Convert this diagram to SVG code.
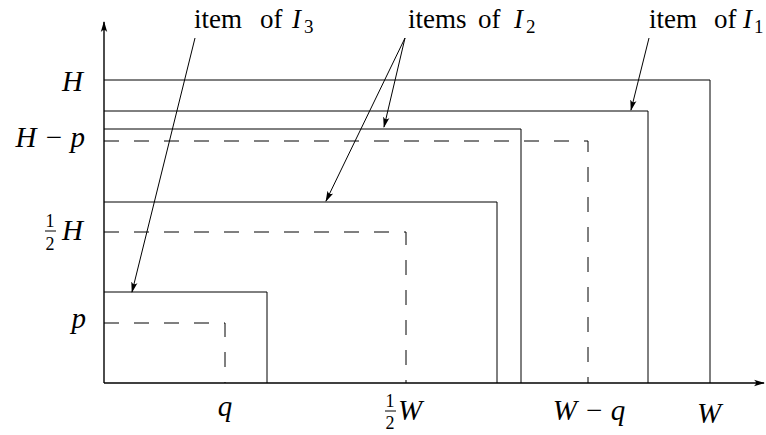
<svg xmlns="http://www.w3.org/2000/svg" width="766" height="435" viewBox="0 0 766 435">
<defs>
<marker id="ah" markerUnits="userSpaceOnUse" markerWidth="12" markerHeight="8" refX="10" refY="4" orient="auto">
<path d="M0,0.8 Q4,4 0,7.2 L11,4 Z" fill="#000"/>
</marker>
<style>
.ax{stroke:#000;stroke-width:1.4;fill:none}
.box{stroke:#000;stroke-width:1;fill:none}
.dash{stroke:#000;stroke-width:1;fill:none;stroke-dasharray:15 15}
.con{stroke:#000;stroke-width:1;fill:none;marker-end:url(#ah)}
.m{font-style:italic;font-size:29px}
.lab{font-size:27px}
.it{font-style:italic}
.sub{font-size:19px;font-style:normal}
.fr{font-size:18px;font-style:normal}
.bar{stroke:#000;stroke-width:1}
</style>
</defs>
<rect width="766" height="435" fill="#fff"/>
<g id="axes">
<line class="ax" x1="104" y1="383" x2="104" y2="22" marker-end="url(#ah)"/>
<line class="ax" x1="104" y1="383" x2="764" y2="383" marker-end="url(#ah)"/>
</g>
<g id="bin">
<polyline class="box" points="104,80 710,80 710,383"/>
</g>
<g id="item-I1">
<polyline class="box" points="104,111 648,111 648,383"/>
</g>
<g id="item-I2-a">
<polyline class="box" points="104,129 521,129 521,383"/>
</g>
<g id="item-I2-b">
<polyline class="box" points="104,202 497,202 497,383"/>
</g>
<g id="item-I3">
<polyline class="box" points="104,292 267,292 267,383"/>
</g>
<g id="dashed-bounds">
<polyline class="dash" points="104,141 588,141 588,383"/>
<polyline class="dash" points="104,232 406,232 406,383"/>
<polyline class="dash" points="104,323 225,323 225,383"/>
</g>
<g id="y-labels" font-family="'Liberation Serif', 'DejaVu Serif', serif" fill="#000">
<text class="m" x="83" y="91" text-anchor="end">H</text>
<text class="m" x="85" y="147" text-anchor="end">H − p</text>
<text class="fr" x="50" y="227" text-anchor="middle">1</text>
<line class="bar" x1="45" y1="231" x2="56" y2="231"/>
<text class="fr" x="50" y="250" text-anchor="middle">2</text>
<text class="m" x="83" y="240" text-anchor="end">H</text>
<text class="m" x="86" y="328" text-anchor="end">p</text>
</g>
<g id="x-labels" font-family="'Liberation Serif', 'DejaVu Serif', serif" fill="#000">
<text class="m" x="225" y="416" text-anchor="middle">q</text>
<text class="fr" x="390" y="407" text-anchor="middle">1</text>
<line class="bar" x1="385" y1="411" x2="396" y2="411"/>
<text class="fr" x="390" y="429" text-anchor="middle">2</text>
<text class="m" x="398" y="420">W</text>
<text class="m" x="589" y="420" text-anchor="middle">W − q</text>
<text class="m" x="709" y="423" text-anchor="middle">W</text>
</g>
<g id="top-labels" font-family="'Liberation Serif', 'DejaVu Serif', serif" fill="#000">
<text class="lab" x="194" y="28">item<tspan x="260">of</tspan><tspan class="it" x="292">I</tspan><tspan class="sub" x="304" y="33">3</tspan></text>
<text class="lab" x="408" y="28">items<tspan x="478">of</tspan><tspan class="it" x="514">I</tspan><tspan class="sub" x="526" y="33">2</tspan></text>
<text class="lab" x="649" y="28">item<tspan x="714">of</tspan><tspan class="it" x="743">I</tspan><tspan class="sub" x="754" y="33">1</tspan></text>
</g>
<g id="connectors">
<line class="con" x1="195" y1="38" x2="132" y2="292"/>
<line class="con" x1="405" y1="38" x2="384" y2="127"/>
<line class="con" x1="405" y1="38" x2="326" y2="201"/>
<line class="con" x1="649" y1="38" x2="631" y2="110"/>
</g>
</svg>
